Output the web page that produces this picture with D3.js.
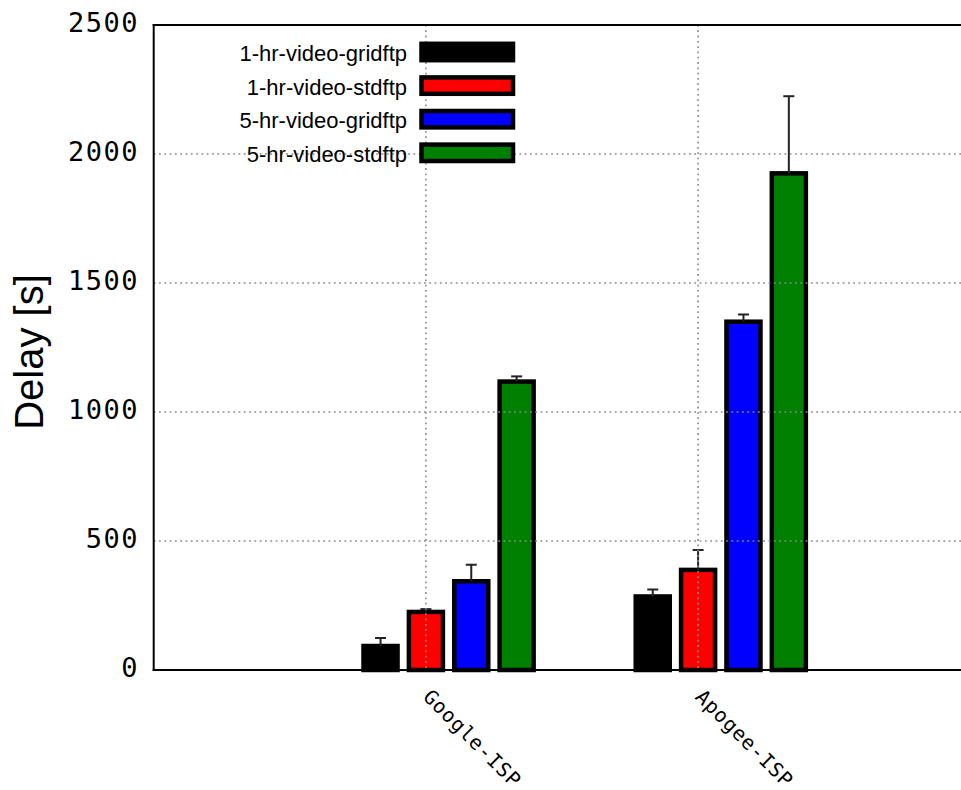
<!DOCTYPE html>
<html>
<head>
<meta charset="utf-8">
<script src="https://cdn.jsdelivr.net/npm/d3@7"></script>
<style>
  html, body { margin: 0; padding: 0; background: #fff; }
  svg { display: block; }
</style>
</head>
<body>
<svg id="chart" width="961" height="790"></svg>
<script>
// Transfer delay per ISP, four transfer configurations
const categories = ["Google-ISP", "Apogee-ISP"];
const seriesNames = ["1-hr-video-gridftp", "1-hr-video-stdftp", "5-hr-video-gridftp", "5-hr-video-stdftp"];
const seriesColors = ["#000000", "#ff0000", "#0000ff", "#008000"];
// mean delay [s], one array per series (Google-ISP, Apogee-ISP)
const gridftp1hr = [93, 285];
const stdftp1hr = [225, 388];
const gridftp5hr = [344, 1350];
const stdftp5hr = [1118, 1925];
// upper error extent [s]
const gridftp1hrErr = [31, 27];
const stdftp1hrErr = [11, 77];
const gridftp5hrErr = [64, 28];
const stdftp5hrErr = [20, 299];
const yTicks = [0, 500, 1000, 1500, 2000, 2500];

const values = [gridftp1hr, stdftp1hr, gridftp5hr, stdftp5hr];
const errors = [gridftp1hrErr, stdftp1hrErr, gridftp5hrErr, stdftp5hrErr];

const svg = d3.select("#chart");
const plotLeft = 153.7, plotTop = 25, plotBottom = 670;

const x = d3.scaleLinear().domain([0, 3]).range([plotLeft, plotLeft + 3 * 272.2]);
const y = d3.scaleLinear().domain([0, 2500]).range([plotBottom, plotTop]);
// series slot offsets within a category, in x units
const offset = d3.scaleLinear().domain([0, 1]).range([-1 / 6, 0]);
const boxWidth = 0.125;

const data = [];
categories.forEach((c, ci) => {
  seriesNames.forEach((s, si) => {
    data.push({ cat: c, ci, si, v: values[si][ci], e: errors[si][ci] });
  });
});

// bars
const bw = x(boxWidth) - x(0);
svg.append("g").selectAll("rect").data(data).join("rect")
  .attr("x", d => x(d.ci + 1 + offset(d.si)) - bw / 2)
  .attr("y", d => y(d.v))
  .attr("width", bw)
  .attr("height", d => y(0) - y(d.v))
  .attr("fill", d => seriesColors[d.si])
  .attr("stroke", "#000")
  .attr("stroke-width", 4.5);

// error bars
const eb = svg.append("g").attr("stroke", "#222").attr("stroke-width", 2);
eb.selectAll("line.v").data(data).join("line").attr("class", "v")
  .attr("x1", d => x(d.ci + 1 + offset(d.si)))
  .attr("x2", d => x(d.ci + 1 + offset(d.si)))
  .attr("y1", d => y(d.v))
  .attr("y2", d => y(d.v + d.e));
eb.selectAll("line.c").data(data).join("line").attr("class", "c")
  .attr("x1", d => x(d.ci + 1 + offset(d.si)) - 5.5)
  .attr("x2", d => x(d.ci + 1 + offset(d.si)) + 5.5)
  .attr("y1", d => y(d.v + d.e))
  .attr("y2", d => y(d.v + d.e));

// grid in front of the bars
const grid = svg.append("g").attr("stroke", "#8a8a8a").attr("stroke-width", 1.6)
  .attr("stroke-dasharray", "1.8,3.5");
grid.selectAll("line.h").data(yTicks.filter(t => t > 0 && t < 2500)).join("line").attr("class", "h")
  .attr("x1", plotLeft).attr("x2", 961)
  .attr("y1", d => y(d)).attr("y2", d => y(d));
grid.selectAll("line.vg").data(categories).join("line").attr("class", "vg")
  .attr("x1", (d, i) => x(i + 1)).attr("x2", (d, i) => x(i + 1))
  .attr("y1", plotTop).attr("y2", plotBottom);

// frame (left, top, bottom)
const frame = svg.append("g").attr("stroke", "#000").attr("stroke-width", 2).attr("fill", "none");
frame.append("line").attr("x1", plotLeft).attr("x2", plotLeft).attr("y1", plotTop - 1).attr("y2", plotBottom + 1);
frame.append("line").attr("x1", plotLeft - 1).attr("x2", 961).attr("y1", plotTop).attr("y2", plotTop);
frame.append("line").attr("x1", plotLeft - 1).attr("x2", 961).attr("y1", plotBottom).attr("y2", plotBottom);

// y tick labels
svg.append("g").selectAll("text").data(yTicks).join("text")
  .attr("x", 139)
  .attr("y", d => y(d) + 6.5)
  .attr("text-anchor", "end")
  .attr("font-family", "DejaVu Sans Mono")
  .attr("font-size", 27)
  .attr("letter-spacing", 1.5)
  .attr("fill", "#000")
  .text(d => d);

// y axis title
svg.append("text")
  .attr("transform", "translate(43,352) rotate(-90)")
  .attr("text-anchor", "middle")
  .attr("font-family", "Liberation Sans, Arial, sans-serif")
  .attr("font-size", 40)
  .text("Delay [s]");

// category labels, rotated
svg.append("g").selectAll("text").data(categories).join("text")
  .attr("transform", (d, i) => `translate(${x(i + 1) + 1},${693}) rotate(45)`)
  .attr("text-anchor", "start")
  .attr("dy", "0.35em")
  .attr("font-family", "DejaVu Sans Mono")
  .attr("font-size", 20)
  .attr("letter-spacing", 0.8)
  .text(d => d);

// legend
const legend = svg.append("g");
const ly = d3.scaleLinear().domain([0, 1]).range([52, 85.6]);
const rows = legend.selectAll("g").data(seriesNames).join("g")
  .attr("transform", (d, i) => `translate(0,${ly(i)})`);
rows.append("rect")
  .attr("x", 421.5).attr("y", -8.2).attr("width", 91.5).attr("height", 16.4)
  .attr("fill", (d, i) => seriesColors[i])
  .attr("stroke", "#000").attr("stroke-width", 4.5);
rows.append("text")
  .attr("x", 407).attr("y", 9)
  .attr("text-anchor", "end")
  .attr("font-family", "Liberation Sans, Arial, sans-serif")
  .attr("font-size", 22)
  .text(d => d);
</script>
</body>
</html>
